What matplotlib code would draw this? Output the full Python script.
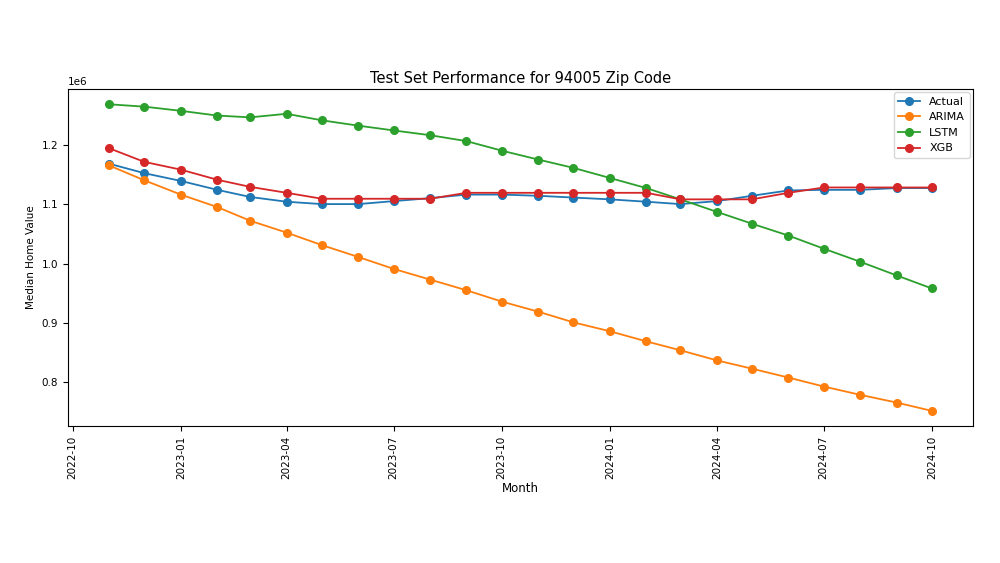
import matplotlib
matplotlib.use("Agg")
import matplotlib.pyplot as plt
import pandas as pd

meses = pd.date_range("2022-11-01", periods=24, freq="MS")

actual = [1.168, 1.152, 1.139, 1.124, 1.112, 1.104, 1.100, 1.100, 1.105, 1.110, 1.116, 1.116,
          1.114, 1.111, 1.108, 1.104, 1.100, 1.105, 1.114, 1.123, 1.124, 1.124, 1.127, 1.127]
arima = [1.165, 1.140, 1.116, 1.095, 1.072, 1.052, 1.031, 1.011, 0.991, 0.973, 0.955, 0.936,
         0.919, 0.901, 0.886, 0.869, 0.854, 0.837, 0.823, 0.808, 0.793, 0.779, 0.766, 0.752]
lstm = [1.268, 1.264, 1.257, 1.249, 1.246, 1.252, 1.241, 1.232, 1.224, 1.216, 1.206, 1.190,
        1.175, 1.161, 1.144, 1.127, 1.108, 1.087, 1.067, 1.047, 1.025, 1.003, 0.980, 0.958]
xgb = [1.194, 1.171, 1.158, 1.141, 1.129, 1.119, 1.109, 1.109, 1.109, 1.109, 1.119, 1.119,
       1.119, 1.119, 1.119, 1.119, 1.108, 1.108, 1.108, 1.119, 1.128, 1.128, 1.128, 1.128]

series = {"Actual": actual, "ARIMA": arima, "LSTM": lstm, "XGB": xgb}

fig = plt.figure(figsize=(10, 5.63), dpi=100)
ax = fig.add_axes([0.068, 0.243, 0.905, 0.599])

for nome, vals in series.items():
    ax.plot(meses, [v * 1e6 for v in vals], marker="o", markersize=5.5, linewidth=1.3, label=nome)

ax.set_title("Test Set Performance for 94005 Zip Code", fontsize=10.5, pad=4)
ax.set_xlabel("Month", fontsize=8.5, labelpad=2)
ax.set_ylabel("Median Home Value", fontsize=7.5)
ax.tick_params(axis="both", labelsize=7.5)
ax.tick_params(axis="x", rotation=90)
ax.yaxis.get_offset_text().set_fontsize(7.5)
ax.legend(loc="upper right", fontsize=8, borderaxespad=0.3)

fig.savefig("out.png", dpi=100)
